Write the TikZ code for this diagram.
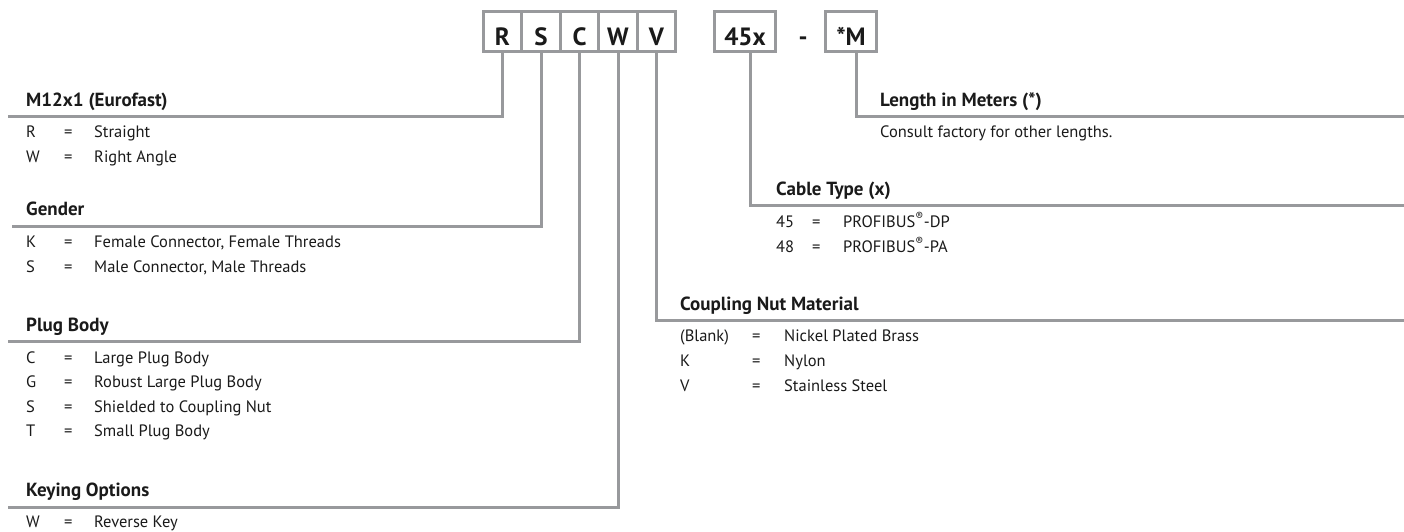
\documentclass[tikz,border=0pt]{standalone}
\usepackage{fontspec}
\setmainfont{PT Sans}
\definecolor{lgray}{HTML}{98999C}
\definecolor{ink}{HTML}{1A1A1A}
\begin{document}
\begin{tikzpicture}[x=1pt,y=-1pt,
  conn/.style={draw=lgray, line width=3pt},
  codebox/.style={draw=lgray, line width=3pt, minimum height=40pt, inner sep=0pt, outer sep=0pt,
    text=ink, font=\bfseries\fontsize{25}{28}\selectfont, text height=28pt, text depth=0pt},
  head/.style={anchor=base west, inner sep=0pt, text=ink, font=\bfseries\fontsize{19}{22}\selectfont},
  body/.style={anchor=base west, inner sep=0pt, text=ink, font=\fontsize{16.5}{19}\selectfont},
]
\useasboundingbox (0,0) rectangle (1404,531);
% code boxes
\node[codebox, minimum width=38.5pt] (bR) at (502.5,31.5) {R};
\node[codebox, minimum width=38.5pt] (bS) at (541,31.5) {S};
\node[codebox, minimum width=38.5pt] (bC) at (579.5,31.5) {C};
\node[codebox, minimum width=38.5pt] (bW) at (618,31.5) {W};
\node[codebox, minimum width=38.5pt] (bV) at (656.5,31.5) {V};
\node[codebox, minimum width=61pt] (b45) at (745,31.5) {45x};
\node[codebox, draw=none, minimum width=10pt] (dash) at (803,31.5) {-};
\node[codebox, minimum width=51pt] (bM) at (851,31.5) {*M};
% connector ends
\coordinate (eR) at (8,116.5);
\coordinate (eS) at (12,226);
\coordinate (eC) at (8,341.5);
\coordinate (eW) at (8,507);
\coordinate (eV) at (1404,320.5);
\coordinate (e45) at (1404,205.5);
\coordinate (eM) at (1404,116.5);
\draw[conn] (bR.south) |- (eR);
\draw[conn] (bS.south) |- (eS);
\draw[conn] (bC.south) |- (eC);
\draw[conn] (bW.south) |- (eW);
\draw[conn] (bV.south) |- (eV);
\draw[conn] ([xshift=5.5pt]b45.south) |- (e45);
\draw[conn] ([xshift=5.5pt]bM.south) |- (eM);
% M12x1
\node[head] (hR) at (26,106) {M12x1 (Eurofast)};
\node[body] (r1c) at (26,137.5) {R}; \node[body] (r1e) at (64,137.5) {=}; \node[body] (r1d) at (94,137.5) {Straight};
\node[body] (r2c) at (26,162.5) {W}; \node[body] (r2e) at (64,162.5) {=}; \node[body] (r2d) at (94,162.5) {Right Angle};
% Gender
\node[head] (hS) at (26,215.5) {Gender};
\node[body] (g1c) at (26,247.5) {K}; \node[body] (g1e) at (64,247.5) {=}; \node[body] (g1d) at (94,247.5) {Female Connector, Female Threads};
\node[body] (g2c) at (26,272.5) {S}; \node[body] (g2e) at (64,272.5) {=}; \node[body] (g2d) at (94,272.5) {Male Connector, Male Threads};
% Plug body
\node[head] (hC) at (26,331) {Plug Body};
\node[body] (p1c) at (26,363) {C}; \node[body] (p1e) at (64,363) {=}; \node[body] (p1d) at (94,363) {Large Plug Body};
\node[body] (p2c) at (26,387.5) {G}; \node[body] (p2e) at (64,387.5) {=}; \node[body] (p2d) at (94,387.5) {Robust Large Plug Body};
\node[body] (p3c) at (26,412) {S}; \node[body] (p3e) at (64,412) {=}; \node[body] (p3d) at (94,412) {Shielded to Coupling Nut};
\node[body] (p4c) at (26,436.5) {T}; \node[body] (p4e) at (64,436.5) {=}; \node[body] (p4d) at (94,436.5) {Small Plug Body};
% Keying
\node[head] (hW) at (26,496.5) {Keying Options};
\node[body] (k1c) at (26,527) {W}; \node[body] (k1e) at (64,527) {=}; \node[body] (k1d) at (94,527) {Reverse Key};
% Length
\node[head] (hM) at (880,106) {Length in Meters (*)};
\node[body] (l1d) at (880,137) {Consult factory for other lengths.};
% Cable type
\node[head] (h45) at (776,195) {Cable Type (x)};
\node[body] (c1c) at (776,227) {45}; \node[body] (c1e) at (812,227) {=}; \node[body] (c1d) at (843,227) {PROFIBUS\textsuperscript{®}-DP};
\node[body] (c2c) at (776,252) {48}; \node[body] (c2e) at (812,252) {=}; \node[body] (c2d) at (843,252) {PROFIBUS\textsuperscript{®}-PA};
% Coupling nut
\node[head] (hV) at (680,310) {Coupling Nut Material};
\node[body] (n1c) at (680,341.5) {(Blank)}; \node[body] (n1e) at (752,341.5) {=}; \node[body] (n1d) at (784,341.5) {Nickel Plated Brass};
\node[body] (n2c) at (680,366.5) {K}; \node[body] (n2e) at (752,366.5) {=}; \node[body] (n2d) at (784,366.5) {Nylon};
\node[body] (n3c) at (680,391.5) {V}; \node[body] (n3e) at (752,391.5) {=}; \node[body] (n3d) at (784,391.5) {Stainless Steel};
\end{tikzpicture}
\end{document}
